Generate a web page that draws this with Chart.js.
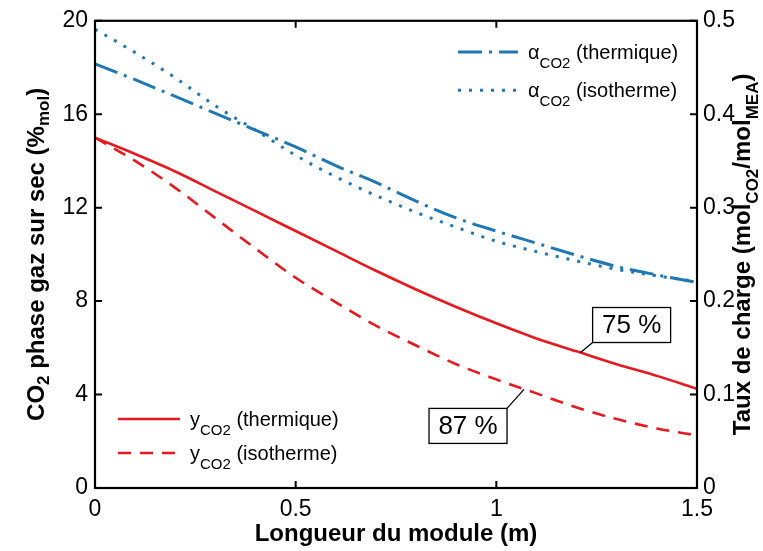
<!DOCTYPE html>
<html><head><meta charset="utf-8">
<script src="https://cdn.jsdelivr.net/npm/chart.js@4/dist/chart.umd.min.js"></script>
<style>html,body{margin:0;padding:0;background:#fff}#wrap{width:763px;height:551px;position:relative}</style>
</head><body><div id="wrap"><canvas id="c" width="763" height="551"></canvas></div>
<script>
// ---- data ----
const xValues = [0, 0.1, 0.2, 0.3, 0.4, 0.5, 0.6, 0.7, 0.8, 0.9, 1.0, 1.1, 1.2, 1.3, 1.4, 1.5];
const yCO2Thermique = [15.0, 14.3, 13.55, 12.7, 11.85, 11.0, 10.15, 9.3, 8.5, 7.75, 7.05, 6.4, 5.85, 5.3, 4.8, 4.25];
const yCO2Isotherme = [15.0, 14.0, 12.85, 11.55, 10.25, 9.0, 7.95, 6.95, 6.1, 5.3, 4.65, 4.05, 3.45, 2.95, 2.55, 2.25];
const alphaThermique = [0.454, 0.437, 0.419, 0.401, 0.383, 0.365, 0.345, 0.327, 0.307, 0.289, 0.275, 0.262, 0.249, 0.237, 0.228, 0.220];
const alphaIsotherme = [0.491, 0.466, 0.439, 0.409, 0.383, 0.356, 0.333, 0.313, 0.295, 0.279, 0.264, 0.253, 0.243, 0.234, 0.227, 0.221];
const xTicks = [0, 0.5, 1, 1.5];
const yLeftTicks = [0, 4, 8, 12, 16, 20];
const yRightTicks = [0, 0.1, 0.2, 0.3, 0.4, 0.5];
const annotLabels = ['75 %', '87 %'];
const annotX = [1.21, 1.069];
const annotY = [5.8, 4.22];

const RED = '#e8191e';
const BLUE = '#2077b4';
const FONT = '"Liberation Sans", Arial, sans-serif';

function pts(ys){ return xValues.map((x,i)=>({x:x, y:ys[i]})); }

const datasets = [
  {label:'yCO2 (thermique)', data:pts(yCO2Thermique), yAxisID:'y', borderColor:RED, borderWidth:2.6, borderDash:[], legendPos:'bl', legendRow:0, sym:'y'},
  {label:'yCO2 (isotherme)', data:pts(yCO2Isotherme), yAxisID:'y', borderColor:RED, borderWidth:2.6, borderDash:[13,9], legendPos:'bl', legendRow:1, sym:'y'},
  {label:'αCO2 (thermique)', data:pts(alphaThermique), yAxisID:'y1', borderColor:BLUE, borderWidth:3, borderDash:[24,7,3,7], legendPos:'tr', legendRow:0, sym:'α'},
  {label:'αCO2 (isotherme)', data:pts(alphaIsotherme), yAxisID:'y1', borderColor:BLUE, borderWidth:3, borderDash:[3,8], legendPos:'tr', legendRow:1, sym:'α'}
].map(d=>Object.assign({pointRadius:0, fill:false, cubicInterpolationMode:'monotone', borderCapStyle:'butt'}, d));

// rich text: parts [{t, sub}]
function richWidth(ctx, parts, size, subSize, weight){
  let w=0;
  parts.forEach(p=>{ctx.font = weight+' '+(p.sub?subSize:size)+'px '+FONT; w+=ctx.measureText(p.t).width;});
  return w;
}
function drawRich(ctx, parts, x, y, size, subSize, subOff, weight){
  let cx=x;
  ctx.textBaseline='alphabetic'; ctx.textAlign='left';
  parts.forEach(p=>{
    ctx.font = weight+' '+(p.sub?subSize:size)+'px '+FONT;
    ctx.fillText(p.t, cx, y+(p.sub?subOff:0));
    cx+=ctx.measureText(p.t).width;
  });
}

const decor = {
  id:'decor',
  afterDraw(chart){
    const ctx=chart.ctx, a=chart.chartArea, sx=chart.scales.x, sy=chart.scales.y, sy1=chart.scales.y1;
    ctx.save();
    ctx.strokeStyle='#000'; ctx.fillStyle='#000';
    // inward ticks
    ctx.lineWidth=2;
    const TL=7;
    ctx.beginPath();
    xTicks.forEach(v=>{const px=sx.getPixelForValue(v); ctx.moveTo(px,a.bottom); ctx.lineTo(px,a.bottom-TL); ctx.moveTo(px,a.top); ctx.lineTo(px,a.top+TL);});
    yLeftTicks.forEach(v=>{const py=sy.getPixelForValue(v); ctx.moveTo(a.left,py); ctx.lineTo(a.left+TL,py);});
    yRightTicks.forEach(v=>{const py=sy1.getPixelForValue(v); ctx.moveTo(a.right,py); ctx.lineTo(a.right-TL,py);});
    ctx.stroke();
    // box
    ctx.lineWidth=2.2;
    ctx.strokeRect(a.left,a.top,a.right-a.left,a.bottom-a.top);

    // legends
    const legendCfg = {
      tr:{x0:458, x1:518, tx:528, y:52, dy:38.3},
      bl:{x0:118, x1:180, tx:190, y:419, dy:34}
    };
    chart.data.datasets.forEach(ds=>{
      const c=legendCfg[ds.legendPos];
      const ly=c.y+ds.legendRow*c.dy;
      ctx.save();
      ctx.strokeStyle=ds.borderColor; ctx.lineWidth=ds.borderWidth; ctx.setLineDash(ds.borderDash);
      ctx.beginPath(); ctx.moveTo(c.x0,ly); ctx.lineTo(c.x1,ly); ctx.stroke();
      ctx.restore();
      const rest = ds.label.replace(/^[yα]CO2/, '');
      ctx.fillStyle='#000';
      drawRich(ctx,[{t:ds.sym},{t:'CO2',sub:true},{t:rest}], c.tx, ly+6.5, 20, 15, 9, 'normal');
    });

    // annotations
    const boxOff=[{lx:12,ly:-10,bx:12,by:-45},{lx:-17,ly:19,bx:-95,by:19}];
    annotLabels.forEach((lab,i)=>{
      const px=sx.getPixelForValue(annotX[i]), py=sy.getPixelForValue(annotY[i]);
      const o=boxOff[i];
      ctx.lineWidth=1.3; ctx.strokeStyle='#000';
      ctx.beginPath(); ctx.moveTo(px,py); ctx.lineTo(px+o.lx,py+o.ly); ctx.stroke();
      ctx.fillStyle='#fff';
      ctx.fillRect(px+o.bx,py+o.by,78,35);
      ctx.strokeRect(px+o.bx,py+o.by,78,35);
      ctx.fillStyle='#000';
      ctx.font='26px '+FONT; ctx.textAlign='center'; ctx.textBaseline='middle';
      ctx.fillText(lab, px+o.bx+39, py+o.by+18.5);
    });

    // axis titles
    ctx.fillStyle='#000';
    const cy=(a.top+a.bottom)/2;
    // left
    let parts=[{t:'CO'},{t:'2',sub:true},{t:' phase gaz sur sec (%'},{t:'mol',sub:true},{t:')'}];
    let w=richWidth(ctx,parts,24,17,'bold');
    ctx.save(); ctx.translate(44,cy); ctx.rotate(-Math.PI/2);
    drawRich(ctx,parts,-w/2,0,24,17,5,'bold'); ctx.restore();
    // right
    parts=[{t:'Taux de charge (mol'},{t:'CO2',sub:true},{t:'/mol'},{t:'MEA',sub:true},{t:')'}];
    w=richWidth(ctx,parts,24,17,'bold');
    ctx.save(); ctx.translate(750,cy); ctx.rotate(-Math.PI/2);
    drawRich(ctx,parts,-w/2,0,24,17,8,'bold'); ctx.restore();
    // bottom
    ctx.font='bold 24px '+FONT; ctx.textAlign='center'; ctx.textBaseline='alphabetic';
    ctx.fillText('Longueur du module (m)', (a.left+a.right)/2, 541);
    ctx.restore();
  }
};

const tickFont={family:FONT, size:23};
new Chart(document.getElementById('c'), {
  type:'line',
  data:{datasets},
  options:{
    responsive:false, animation:false, events:[],
    layout:{padding:{top:17,left:0,right:0,bottom:0}},
    plugins:{legend:{display:false}, tooltip:{enabled:false}},
    scales:{
      x:{type:'linear', min:0, max:1.5, position:'bottom',
         grid:{display:false, drawTicks:false}, border:{display:false},
         afterBuildTicks:s=>{s.ticks=xTicks.map(v=>({value:v}));},
         afterFit:s=>{s.height=63;},
         ticks:{font:tickFont, color:'#000', padding:8, maxRotation:0, callback:v=>String(v)}},
      y:{type:'linear', min:0, max:20, position:'left',
         grid:{display:false, drawTicks:false}, border:{display:false},
         afterBuildTicks:s=>{s.ticks=yLeftTicks.map(v=>({value:v}));},
         afterFit:s=>{s.width=95;},
         ticks:{font:tickFont, color:'#000', padding:7, callback:v=>String(v)}},
      y1:{type:'linear', min:0, max:0.5, position:'right',
         grid:{display:false, drawTicks:false}, border:{display:false},
         afterBuildTicks:s=>{s.ticks=yRightTicks.map(v=>({value:v}));},
         afterFit:s=>{s.width=66;},
         ticks:{font:tickFont, color:'#000', padding:6, callback:v=>String(v)}}
    }
  },
  plugins:[decor]
});
</script>
</body></html>
